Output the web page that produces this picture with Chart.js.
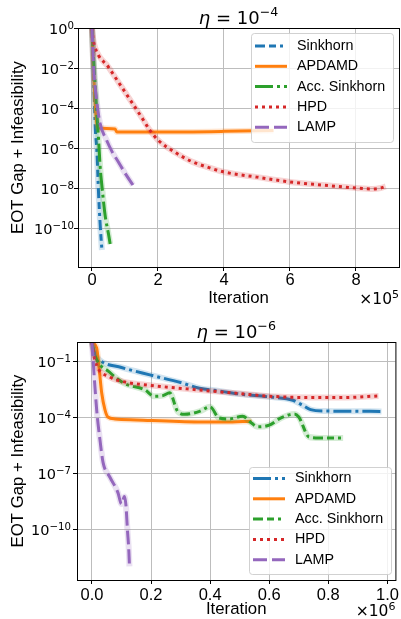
<!DOCTYPE html>
<html>
<head>
<meta charset="utf-8">
<script src="https://cdn.jsdelivr.net/npm/chart.js@4.4.1/dist/chart.umd.min.js"></script>
<style>
  html, body { margin: 0; padding: 0; background: #fff; }
  canvas { display: block; }
</style>
</head>
<body>
<canvas id="topChart" width="401" height="310"></canvas>
<canvas id="bottomChart" width="401" height="309"></canvas>
<script>
//! data >>

// eta = 1e-4
const topSinkhornX = [0, 3e3, 6e3, 1e4, 1.5e4, 2e4, 2.5e4, 3e4];
const topSinkhornY = [1, 3.2e-2, 1e-3, 1e-5, 6.3e-7, 5e-9, 1.3e-10, 8e-12];
const topApdamdX = [0, 3e3, 8e3, 1.2e4, 1.6e4, 2e4, 7e4, 7.5e4, 2e5, 4e5, 5.5e5];
const topApdamdY = [1, 3.2e-2, 5e-4, 5e-5, 1.3e-5, 1e-5, 8.9e-6, 6.3e-6, 6.3e-6, 6.8e-6, 7.6e-6];
const topAccX = [0, 3e3, 1e4, 1.5e4, 2e4, 2.5e4, 3e4, 4e4, 5e4, 5.5e4];
const topAccY = [1, 0.1, 1e-3, 5e-5, 2.5e-6, 1e-7, 1.3e-8, 4e-10, 5e-11, 1.6e-11];
const topHpdX = [0, 3e3, 9e3, 5e4, 1e5, 1.5e5, 1.75e5, 2e5, 2.5e5, 3e5, 3.5e5, 4e5, 5e5, 6e5, 7e5, 8e5, 8.5e5, 8.75e5, 8.9e5];
const topHpdY = [1, 0.32, 0.11, 1.1e-2, 6.3e-4, 3.5e-5, 7.9e-6, 2.5e-6, 6.3e-7, 2.2e-7, 1.1e-7, 6.3e-8, 3.5e-8, 2e-8, 1.4e-8, 1e-8, 8.9e-9, 1e-8, 1.2e-8];
const topLampX = [0, 5e3, 1.4e4, 2.4e4, 4.4e4, 6e4, 8e4, 1e5, 1.24e5];
const topLampY = [1, 1e-2, 2.5e-4, 1.8e-5, 2.5e-6, 7e-7, 2e-7, 5.6e-8, 1.4e-8];

// eta = 1e-6
const botSinkhornX = [0, 1e4, 2.7e4, 1e5, 1.96e5, 3e5, 3.64e5, 4.3e5, 5e5, 6e5, 6.8e5, 7.1e5, 7.4e5, 7.9e5, 9.8e5];
const botSinkhornY = [1, 0.25, 0.11, 4.5e-2, 1.8e-2, 7e-3, 3.5e-3, 2.5e-3, 1.7e-3, 1.2e-3, 7.9e-4, 4.5e-4, 2.5e-4, 2.1e-4, 2e-4];
const botApdamdX = [0, 1.6e4, 2.5e4, 3.3e4, 4.4e4, 5.4e4, 7.8e4, 1.5e5, 3.6e5, 4.5e5, 5.4e5];
const botApdamdY = [1, 0.5, 3.2e-2, 2e-3, 2.5e-4, 1e-4, 7.9e-5, 7e-5, 5.4e-5, 5.4e-5, 6e-5];
const botAccX = [0, 1e4, 6e4, 1.1e5, 1.8e5, 2.1e5, 2.4e5, 2.63e5, 2.9e5, 3.14e5, 3.64e5, 4e5, 4.3e5, 4.65e5, 5.1e5, 5.4e5, 5.6e5, 6e5, 6.4e5, 6.85e5, 7e5, 7.35e5, 7.7e5, 8.5e5];
const botAccY = [1, 0.2, 2.5e-2, 6.3e-3, 2.8e-3, 1.3e-3, 1.4e-3, 2e-3, 2e-4, 1.4e-4, 2e-4, 3.5e-4, 8.9e-5, 7.9e-5, 1.1e-4, 4.8e-5, 3e-5, 3.7e-5, 8.9e-5, 1.45e-4, 1e-4, 8.5e-6, 7.6e-6, 7.6e-6];
const botHpdX = [0, 1e4, 6e4, 1.05e5, 1.96e5, 3.64e5, 5e5, 6e5, 7.5e5, 8.5e5, 9.7e5];
const botHpdY = [1, 0.11, 1.4e-2, 7.9e-3, 5e-3, 2.8e-3, 1.8e-3, 1.3e-3, 1.1e-3, 1.1e-3, 1.35e-3];
const botLampX = [0, 1.6e4, 2.7e4, 3.8e4, 6e4, 8.8e4, 1e5, 1.1e5, 1.15e5, 1.2e5, 1.25e5, 1.27e5];
const botLampY = [1, 2.5e-4, 6.3e-6, 3.5e-7, 6.3e-8, 8.9e-9, 2.2e-9, 5.6e-9, 2e-9, 1e-10, 6.3e-12, 1e-12];

// tick labels
const topXTicks = [0, 2e5, 4e5, 6e5, 8e5];
const topYTicks = [1, 1e-2, 1e-4, 1e-6, 1e-8, 1e-10];
const botXTicks = [0, 2e5, 4e5, 6e5, 8e5, 1e6];
const botYTicks = [1e-1, 1e-4, 1e-7, 1e-10];

//! styles >>
const BLUE = '#1f77b4', ORANGE = '#ff7f0e', GREEN = '#2ca02c', RED = '#d62728', PURPLE = '#9467bd';
const DASH_A = [10, 4, 7, 4, 3, 4];
const DASH_B = [18, 4, 3, 4];
const SOLID = [];
const DOTS = [3, 4];
const LONG = [14, 5];
const FONT = '"Liberation Sans", Arial, sans-serif';
const MATH = '"DejaVu Sans", sans-serif';

const topSeries = [
  { name: 'Sinkhorn', x: topSinkhornX, y: topSinkhornY, color: BLUE, dash: DASH_A },
  { name: 'APDAMD', x: topApdamdX, y: topApdamdY, color: ORANGE, dash: SOLID },
  { name: 'Acc. Sinkhorn', x: topAccX, y: topAccY, color: GREEN, dash: DASH_B },
  { name: 'HPD', x: topHpdX, y: topHpdY, color: RED, dash: DOTS },
  { name: 'LAMP', x: topLampX, y: topLampY, color: PURPLE, dash: LONG }
];
const botSeries = [
  { name: 'Sinkhorn', x: botSinkhornX, y: botSinkhornY, color: BLUE, dash: DASH_B },
  { name: 'APDAMD', x: botApdamdX, y: botApdamdY, color: ORANGE, dash: SOLID },
  { name: 'Acc. Sinkhorn', x: botAccX, y: botAccY, color: GREEN, dash: DASH_A },
  { name: 'HPD', x: botHpdX, y: botHpdY, color: RED, dash: DOTS },
  { name: 'LAMP', x: botLampX, y: botLampY, color: PURPLE, dash: LONG }
];

Chart.defaults.font.family = FONT;
Chart.defaults.color = '#000';

function fade(hex, a) {
  const n = parseInt(hex.slice(1), 16);
  return `rgba(${n >> 16},${(n >> 8) & 255},${n & 255},${a})`;
}

// halo underneath each line, later series on top
function buildDatasets(series) {
  const ds = [];
  series.slice().reverse().forEach(s => {
    const pts = s.x.map((v, i) => ({ x: v, y: s.y[i] }));
    ds.push({ label: s.name, data: pts, borderColor: s.color, borderWidth: 3, borderDash: s.dash,
      pointRadius: 0, cubicInterpolationMode: 'monotone', fill: false, clip: 0 });
    ds.push({ label: s.name + ' halo', data: pts, borderColor: fade(s.color, 0.2), borderWidth: 6,
      pointRadius: 0, cubicInterpolationMode: 'monotone', fill: false, clip: 0 });
  });
  return ds;
}

function expText(v) {
  const e = Math.round(Math.log10(v));
  return e < 0 ? '\u2212' + (-e) : String(e);
}

// "10" with a raised exponent, right edge at xr
function drawPow(ctx, xr, base, pre, exp, size, esize, rise) {
  ctx.font = esize + 'px ' + MATH;
  const we = ctx.measureText(exp).width;
  ctx.font = size + 'px ' + MATH;
  const wb = ctx.measureText(pre).width;
  ctx.textAlign = 'left';
  ctx.textBaseline = 'alphabetic';
  ctx.fillText(pre, xr - we - wb, base);
  ctx.font = esize + 'px ' + MATH;
  ctx.fillText(exp, xr - we, base - rise);
}

function drawTitle(ctx, cx, base, exp) {
  const parts = [
    ['\u03b7', 'italic 18px ' + MATH, 0],
    [' = 10', '18px ' + MATH, 0],
    [exp, '12.6px ' + MATH, 7.5]
  ];
  let w = 0;
  parts.forEach(p => { ctx.font = p[1]; w += ctx.measureText(p[0]).width; });
  let x = cx - w / 2;
  ctx.textAlign = 'left';
  ctx.textBaseline = 'alphabetic';
  parts.forEach(p => {
    ctx.font = p[1];
    ctx.fillText(p[0], x, base - p[2]);
    x += ctx.measureText(p[0]).width;
  });
}

function boxPath(ctx, x, y, w, h, r) {
  ctx.beginPath();
  ctx.moveTo(x + r, y);
  ctx.arcTo(x + w, y, x + w, y + h, r);
  ctx.arcTo(x + w, y + h, x, y + h, r);
  ctx.arcTo(x, y + h, x, y, r);
  ctx.arcTo(x, y, x + w, y, r);
  ctx.closePath();
}

function drawLegend(ctx, series, b) {
  boxPath(ctx, b.x + 0.5, b.y + 0.5, b.w, b.h, 3);
  ctx.fillStyle = 'rgba(255,255,255,0.8)';
  ctx.fill();
  ctx.lineWidth = 1;
  ctx.strokeStyle = 'rgba(204,204,204,0.9)';
  ctx.stroke();
  series.forEach((s, i) => {
    const y = b.y + b.first + i * b.step;
    ctx.beginPath();
    ctx.setLineDash(s.dash);
    ctx.lineWidth = 3;
    ctx.strokeStyle = s.color;
    ctx.moveTo(b.x + 4, y);
    ctx.lineTo(b.x + 36, y);
    ctx.stroke();
    ctx.setLineDash([]);
    ctx.fillStyle = '#000';
    ctx.font = '14.3px ' + FONT;
    ctx.textAlign = 'left';
    ctx.textBaseline = 'middle';
    ctx.fillText(s.name, b.x + 46, y);
  });
}

function decor(series, p) {
  return {
    id: 'decor',
    afterDatasetsDraw(chart) {
      const { ctx, chartArea: a } = chart;
      ctx.save();
      ctx.strokeStyle = '#000';
      ctx.lineWidth = 1;
      ctx.strokeRect(a.left + 0.5, a.top + 0.5, a.right - a.left, a.bottom - a.top);
      ctx.restore();
    },
    afterDraw(chart) {
      const { ctx, chartArea: a } = chart;
      const ys = chart.scales.y;
      ctx.save();
      ctx.fillStyle = '#000';
      ys.ticks.forEach(t => {
        const py = ys.getPixelForValue(t.value);
        drawPow(ctx, p.yLabelRight, py + 6, '10', expText(t.value), 14.5, 10.2, 5.5);
      });
      drawTitle(ctx, (a.left + a.right) / 2, a.top - 4.5, p.titleExp);
      drawPow(ctx, a.right, p.offsetBase, '\u00d710', p.offsetExp, 15.5, 11, 6.5);
      drawLegend(ctx, series, p.legend);
      ctx.restore();
    }
  };
}

function makeChart(id, series, p) {
  return new Chart(id, {
    type: 'line',
    data: { datasets: buildDatasets(series) },
    options: {
      responsive: false,
      animation: false,
      events: [],
      layout: { autoPadding: false, padding: { left: 0, right: p.padRight, top: p.padTop, bottom: 0 } },
      plugins: { legend: { display: false }, tooltip: { enabled: false }, title: { display: false } },
      scales: {
        x: {
          type: 'linear', min: p.xMin, max: p.xMax,
          afterBuildTicks: s => { s.ticks = p.xTicks.map(v => ({ value: v })); },
          afterFit: s => { s.height = p.xAxisHeight; },
          ticks: { callback: p.xLabel, font: { size: 16.5 }, color: '#000', padding: p.xTickPad, maxRotation: 0, autoSkip: false },
          grid: { color: '#bdbdbd', tickColor: '#000', tickLength: 4 },
          border: { color: '#000' },
          title: { display: true, text: 'Iteration', font: { size: 16.8 }, color: '#000', padding: { top: 0, bottom: p.xTitlePad } }
        },
        y: {
          type: 'logarithmic', min: p.yMin, max: p.yMax,
          afterBuildTicks: s => { s.ticks = p.yTicks.map(v => ({ value: v })); },
          afterFit: s => { s.width = p.yAxisWidth; },
          ticks: { display: false },
          grid: { color: '#bdbdbd', tickColor: '#000', tickLength: 4 },
          border: { color: '#000' },
          title: { display: true, text: 'EOT Gap + Infeasibility', font: { size: 16.8 }, color: '#000', padding: { top: 8, bottom: 0 } }
        }
      }
    },
    plugins: [decor(series, p)]
  });
}

makeChart('topChart', topSeries, {
  padTop: 28, padRight: 2, xAxisHeight: 43, yAxisWidth: 78,
  xMin: -0.424e5, xMax: 9.303e5, xTicks: topXTicks, xLabel: v => String(Math.round(v / 1e5)),
  xTickPad: 0, xTitlePad: 2,
  yMin: Math.pow(10, -11.95), yMax: 1, yTicks: topYTicks, yLabelRight: 74,
  titleExp: '\u22124', offsetExp: '5', offsetBase: 304,
  legend: { x: 251, y: 33, w: 142, h: 109, first: 13, step: 20.3 }
});

makeChart('bottomChart', botSeries, {
  padTop: 32, padRight: 4, xAxisHeight: 39, yAxisWidth: 77,
  xMin: -0.0505e6, xMax: 1.027e6, xTicks: botXTicks, xLabel: v => (v / 1e6).toFixed(1),
  xTickPad: 2, xTitlePad: 0,
  yMin: Math.pow(10, -12.73), yMax: Math.pow(10, 0.018), yTicks: botYTicks, yLabelRight: 71,
  titleExp: '\u22126', offsetExp: '6', offsetBase: 306,
  legend: { x: 249, y: 157, w: 142, h: 107, first: 11.5, step: 20.3 }
});
</script>
</body>
</html>
